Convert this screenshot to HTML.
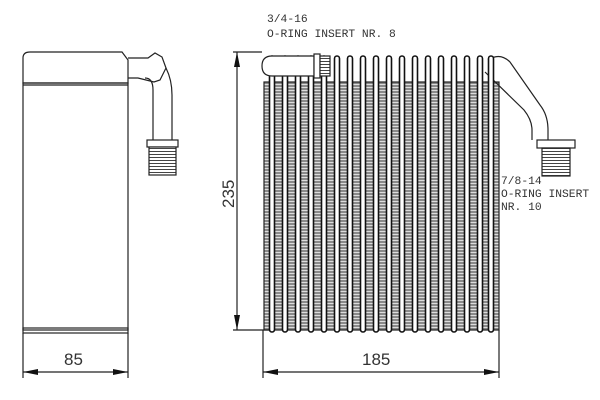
<!DOCTYPE html>
<html><head><style>body{margin:0;background:#fff}svg{display:block}text{font-family:"Liberation Sans",sans-serif;fill:#333}</style></head><body>
<svg width="600" height="400" viewBox="0 0 600 400" xmlns="http://www.w3.org/2000/svg">
<defs>
<pattern id="fin" width="4" height="3" patternUnits="userSpaceOnUse"><rect width="4" height="3" fill="#8a8a8a"/><rect y="0" width="4" height="1" fill="#ddd"/></pattern>
<pattern id="thr" width="4" height="3" patternUnits="userSpaceOnUse"><rect width="4" height="3" fill="#fff"/><rect y="1" width="4" height="1" fill="#444"/></pattern>
<g id="tube"><rect x="-2.5" y="56" width="5" height="276" rx="2.5" fill="#fff" stroke="#111" stroke-width="1.6"/></g>
</defs>
<g fill="none" stroke="#222" stroke-width="1.2">
<path d="M23,58 Q23,52 30,52 L122,52 L128,60 L128,83 L23,83 Z"/>
<rect x="23" y="83" width="105" height="247"/>
<line x1="23" y1="85" x2="128" y2="85"/>
<rect x="23" y="328" width="105" height="5"/>
<path d="M128,58 L148,58 L155,53 L162,57 L166,68 L160,80 L154,82 L138,78 L128,78"/>
<path d="M145,78 Q153,78 153,90 L153,140 M166,68 Q172,80 172,95 L172,140"/>
<rect x="147" y="140" width="31" height="7"/>
<rect x="149" y="147" width="27" height="28" fill="url(#thr)"/>
<line x1="23" y1="333" x2="23" y2="378"/><line x1="128" y1="333" x2="128" y2="378"/>
<line x1="23" y1="372" x2="128" y2="372"/>
<rect x="264" y="82" width="235" height="248" fill="url(#fin)"/>
<line x1="233" y1="52" x2="262" y2="52"/><line x1="233" y1="330" x2="272" y2="330"/>
<line x1="237" y1="52" x2="237" y2="330"/>
<line x1="263" y1="330" x2="263" y2="378"/><line x1="499" y1="330" x2="499" y2="378"/>
<line x1="263" y1="372" x2="499" y2="372"/>
<path d="M488,60 Q500,52 510,62 L540,105 Q548,115 548,130 L548,140 M485,72 L524,110 Q532,120 532,130 L532,140" />
<rect x="537" y="140" width="38" height="8" fill="#fff"/>
<rect x="542" y="148" width="28" height="28" fill="url(#thr)"/>
</g>
<use href="#tube" x="272"/><use href="#tube" x="285"/><use href="#tube" x="298"/><use href="#tube" x="311"/><use href="#tube" x="324"/><use href="#tube" x="337"/><use href="#tube" x="350"/><use href="#tube" x="363"/><use href="#tube" x="376"/><use href="#tube" x="389"/><use href="#tube" x="402"/><use href="#tube" x="415"/><use href="#tube" x="428"/><use href="#tube" x="441"/><use href="#tube" x="454"/><use href="#tube" x="467"/><use href="#tube" x="480"/><use href="#tube" x="491"/>
<g fill="#fff" stroke="#222" stroke-width="1.2">
<path d="M272,56 L314,56 L314,76 L272,76 Q262,76 262,66 Q262,56 272,56"/>
<rect x="314" y="54" width="6" height="24"/>
<rect x="320" y="56" width="10" height="20" fill="url(#thr)"/>
</g>
<g fill="#111">
<polygon points="23,372 38,369 38,375"/><polygon points="128,372 113,369 113,375"/>
<polygon points="263,372 278,369 278,375"/><polygon points="499,372 484,369 484,375"/>
<polygon points="237,52 234,67 240,67"/><polygon points="237,330 234,315 240,315"/>
</g>
<text x="64" y="365" font-size="17">85</text>
<text x="362" y="365" font-size="17">185</text>
<text transform="translate(234,208) rotate(-90)" font-size="17">235</text>
<g font-size="11.3">
<text x="267" y="22" style="font-family:'Liberation Mono',monospace">3/4-16</text>
<text x="267" y="37" style="font-family:'Liberation Mono',monospace">O-RING INSERT NR. 8</text>
<text x="501" y="184" style="font-family:'Liberation Mono',monospace">7/8-14</text>
<text x="501" y="197" style="font-family:'Liberation Mono',monospace">O-RING INSERT</text>
<text x="501" y="210" style="font-family:'Liberation Mono',monospace">NR. 10</text>
</g>
</svg>
</body></html>
